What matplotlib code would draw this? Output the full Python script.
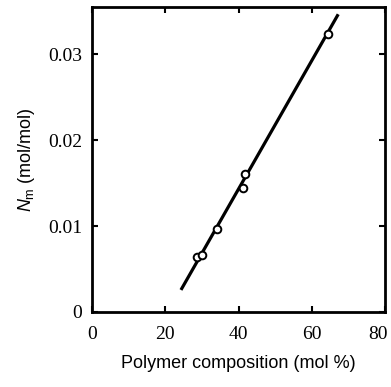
import matplotlib
matplotlib.use("Agg")
from matplotlib import pyplot as plt
from matplotlib.transforms import ScaledTranslation

# Measured points: polymer composition (mol %) vs N_m (mol/mol)
composition = [28.7, 30.0, 34.1, 41.3, 41.7, 64.5]
n_m = [0.0064, 0.0066, 0.0097, 0.0144, 0.0160, 0.0324]

# Fitted straight line, drawn between its two end points
fit_x = [24.3, 67.2]
fit_y = [0.00256, 0.03465]

x_ticks = [0, 20, 40, 60, 80]
y_ticks = [0, 0.01, 0.02, 0.03]
y_tick_labels = ["0", "0.01", "0.02", "0.03"]

plt.rcParams["mathtext.fontset"] = "custom"
plt.rcParams["mathtext.it"] = "Liberation Sans:italic"
plt.rcParams["mathtext.rm"] = "Liberation Sans"

fig = plt.figure(figsize=(3.91, 3.87), dpi=100)
ax = fig.add_axes([0.235, 0.194, 0.75, 0.788])

ax.plot(fit_x, fit_y, color="black", lw=2.3, solid_capstyle="butt", zorder=2)
ax.plot(composition, n_m, ls="none", marker="o", ms=5.5, mfc="white",
        mec="black", mew=1.4, zorder=3)

ax.set_xlim(0, 80)
ax.set_ylim(0, 0.0355)
ax.set_xticks(x_ticks)
ax.set_yticks(y_ticks)
ax.set_yticklabels(y_tick_labels)

for s in ax.spines.values():
    s.set_linewidth(2)
ax.tick_params(direction="in", top=True, right=True, length=4, width=1.5,
               pad=7)
ax.tick_params(axis="x", pad=10)
for lab in ax.get_xticklabels() + ax.get_yticklabels():
    lab.set_fontfamily("Liberation Serif")
    lab.set_fontsize(14)

# keep the last x label inside the figure
last = ax.get_xticklabels()[-1]
last.set_transform(last.get_transform() +
                   ScaledTranslation(-5 / 72, 0, fig.dpi_scale_trans))

ax.set_xlabel("Polymer composition (mol %)", family="Liberation Sans",
              fontsize=13, labelpad=9)
ax.set_ylabel(r"$N_\mathrm{m}$ (mol/mol)", family="Liberation Sans",
              fontsize=13, labelpad=8)

fig.savefig("out.png", dpi=100)
